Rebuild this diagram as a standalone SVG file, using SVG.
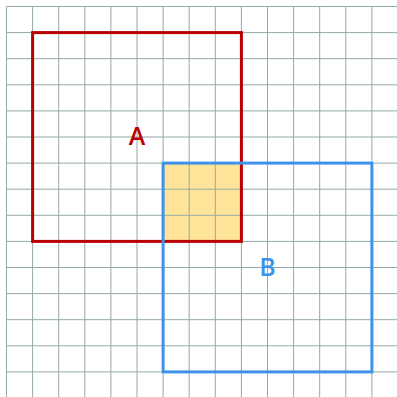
<svg xmlns="http://www.w3.org/2000/svg" width="397" height="397" viewBox="0 0 397 397">
<style>
.grid line{stroke:#95a8a8;stroke-width:1}
.lbl{font-family:"Open Sans","Liberation Sans",Arial,sans-serif;font-weight:600;font-size:25px;text-anchor:middle;dominant-baseline:central}
</style>
<rect width="397" height="397" fill="#ffffff"/>
<rect id="overlap" x="163.1" y="163.1" width="78.3" height="78.3" fill="#ffe49a"/>
<g class="grid">
<line x1="6.5" y1="6.5" x2="6.5" y2="397"/><line x1="32.6" y1="6.5" x2="32.6" y2="397"/><line x1="58.7" y1="6.5" x2="58.7" y2="397"/><line x1="84.8" y1="6.5" x2="84.8" y2="397"/><line x1="110.9" y1="6.5" x2="110.9" y2="397"/><line x1="137" y1="6.5" x2="137" y2="397"/><line x1="163.1" y1="6.5" x2="163.1" y2="397"/><line x1="189.2" y1="6.5" x2="189.2" y2="397"/><line x1="215.3" y1="6.5" x2="215.3" y2="397"/><line x1="241.4" y1="6.5" x2="241.4" y2="397"/><line x1="267.5" y1="6.5" x2="267.5" y2="397"/><line x1="293.6" y1="6.5" x2="293.6" y2="397"/><line x1="319.7" y1="6.5" x2="319.7" y2="397"/><line x1="345.8" y1="6.5" x2="345.8" y2="397"/><line x1="371.9" y1="6.5" x2="371.9" y2="397"/>
<line y1="6.5" x1="6.5" y2="6.5" x2="397"/><line y1="32.6" x1="6.5" y2="32.6" x2="397"/><line y1="58.7" x1="6.5" y2="58.7" x2="397"/><line y1="84.8" x1="6.5" y2="84.8" x2="397"/><line y1="110.9" x1="6.5" y2="110.9" x2="397"/><line y1="137" x1="6.5" y2="137" x2="397"/><line y1="163.1" x1="6.5" y2="163.1" x2="397"/><line y1="189.2" x1="6.5" y2="189.2" x2="397"/><line y1="215.3" x1="6.5" y2="215.3" x2="397"/><line y1="241.4" x1="6.5" y2="241.4" x2="397"/><line y1="267.5" x1="6.5" y2="267.5" x2="397"/><line y1="293.6" x1="6.5" y2="293.6" x2="397"/><line y1="319.7" x1="6.5" y2="319.7" x2="397"/><line y1="345.8" x1="6.5" y2="345.8" x2="397"/><line y1="371.9" x1="6.5" y2="371.9" x2="397"/>
</g>
<g id="A">
<rect x="32.6" y="32.6" width="208.8" height="208.8" fill="none" stroke="#b80000" stroke-width="3"/>
<text class="lbl" x="137" y="135" fill="#b80000">A</text>
</g>
<g id="B">
<rect x="163.1" y="163.1" width="208.8" height="208.8" fill="none" stroke="#3d93ea" stroke-width="3"/>
<text class="lbl" x="267.5" y="265.5" fill="#3d93ea">B</text>
</g>
</svg>
